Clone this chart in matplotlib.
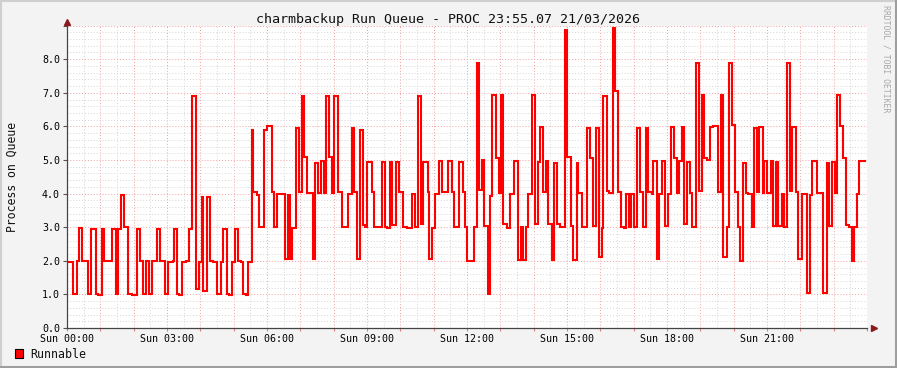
import matplotlib
matplotlib.use("Agg")
import matplotlib.pyplot as plt
from matplotlib.ticker import MultipleLocator, FuncFormatter
from matplotlib.patches import Rectangle
from matplotlib.lines import Line2D

# ---- data: step start (minutes after Sun 00:00) and run-queue value ----
step_minutes = [
    0, 11.4, 18.6, 21.6, 27.6, 38.4, 42.6, 51.6, 56.4, 62.4, 67.2, 81.6, 87.6, 92.4, 96.6,
    102.6, 110.4, 116.4, 126.6, 131.4, 136.2, 142.2, 147.6, 152.4, 161.4, 167.4, 176.4,
    182.4, 190, 192.6, 197.4, 201.6, 206.4, 214, 220.2, 225.6, 231.6, 237.6, 242.4, 245.4,
    251.4, 257.4, 263.4, 270.6, 276.6, 281.4, 287.4, 291.6, 297.6, 302.4, 307.2, 313,
    316.2, 321.6, 326.4, 332.4, 335.4, 341.4, 345.6, 355.2, 360.6, 368.4, 372.6, 378.6,
    392.4, 398.4, 401.4, 405.6, 412.2, 418.2, 422.4, 426.6, 432.6, 443.4, 446.4, 452.4,
    457.2, 463.2, 466.2, 471.6, 476.4, 480.6, 488.4, 494.4, 506.4, 512.4, 517.2, 521.4,
    527.4, 532.2, 536.4, 540.6, 548.4, 552.6, 566.4, 572.4, 576.6, 581.4, 585.6, 591.6,
    597.6, 605.4, 611.4, 620.4, 626.4, 631.2, 637.2, 641.4, 649.2, 651.6, 657.6, 662.4,
    669.6, 675.6, 686.4, 692.4, 697.2, 705.6, 712.2, 716.4, 720.6, 732.6, 737.4, 741.6,
    746.4, 751.2, 757.2, 761.4, 765.6, 771.6, 777.6, 781.2, 785.4, 791.4, 797.4, 805.2,
    811.2, 817.2, 821.4, 826.2, 830.4, 836.4, 842.4, 847.2, 851.4, 856.2, 861.6, 866.4,
    872.4, 877.2, 881.4, 887.4, 896.4, 900.6, 907.2, 911.4, 917.4, 920.4, 926.4, 936.6,
    941.4, 947.4, 951.6, 957.6, 962.4, 965.4, 971.4, 976.2, 982.2, 986.4, 991.2, 997.2,
    1002.6, 1006.2, 1011.6, 1015.2, 1021.2, 1026.6, 1031.4, 1036.2, 1041.6, 1046.4, 1052.4,
    1055.4, 1061.4, 1066.2, 1071.6, 1076.4, 1082.4, 1086.6, 1092.6, 1097.4, 1102.2, 1106.4,
    1111.2, 1116.6, 1121.4, 1125.6, 1131.6, 1137.6, 1142.4, 1146.6, 1151.4, 1157.4, 1162.2,
    1171.2, 1176.6, 1181.4, 1187.4, 1191.6, 1197.6, 1202.4, 1207.2, 1211.4, 1216.2, 1222.2,
    1226.4, 1232.4, 1237.2, 1241.4, 1246.2, 1252.2, 1254.6, 1260.6, 1266.6, 1271.4, 1276.2,
    1280.4, 1286.4, 1291.2, 1296.6, 1301.4, 1305.6, 1311.6, 1316.4, 1322.4, 1331.4, 1337.4,
    1341.6, 1350.6, 1361.4, 1367.4, 1371.6, 1376.4, 1382.4, 1386.6, 1391.4, 1396.2, 1401.6,
    1408.2, 1412.4, 1417.2, 1421.4, 1426.2, 1437,
]
runnable = [
    1.97, 1.0, 2.0, 2.97, 2.0, 1.0, 2.95, 1.0, 0.97, 2.95, 2.0, 2.95, 1.0, 2.95, 3.97,
    3.0, 1.0, 0.97, 2.95, 2.0, 1.0, 2.0, 1.0, 2.0, 2.95, 2.0, 1.0,
    1.97, 2.0, 2.95, 1.0, 0.97, 1.97, 2.0, 2.95, 6.9, 1.15, 1.97, 3.9, 1.1,
    3.9, 2.0, 1.97, 1.0, 1.97, 2.95, 1.0, 0.97, 1.97, 2.95, 2.0, 1.97,
    1.0, 0.97, 1.97, 5.9, 4.05, 3.97, 3.0, 5.9, 6.0, 4.05, 3.0, 3.99,
    2.05, 3.97, 2.05, 2.97, 5.94, 4.05, 6.9, 5.08, 4.02, 2.05, 4.92, 4.02,
    4.98, 4.02, 6.9, 5.08, 4.02, 6.9, 4.05, 3.0, 4.0, 5.95, 4.05, 2.05,
    5.9, 3.08, 3.0, 4.95, 4.05, 3.0, 4.95, 3.0, 2.97, 4.95, 3.08, 4.95,
    4.05, 3.0, 2.97, 3.99, 3.0, 6.9, 3.1, 4.95, 4.05, 2.05, 2.99, 3.99,
    4.98, 4.05, 4.98, 4.05, 3.0, 4.95, 4.05, 3.0, 2.0, 3.0, 7.9, 4.1,
    5.0, 3.05, 1.0, 3.93, 6.93, 5.05, 4.02, 6.93, 3.09, 2.99, 3.99, 4.98,
    2.03, 3.0, 2.02, 3.0, 4.0, 6.93, 3.09, 4.95, 5.99, 4.06, 4.98, 3.09,
    2.02, 4.92, 3.09, 3.0, 8.87, 5.1, 3.03, 2.02, 4.92, 4.03, 3.0, 5.94,
    5.05, 3.03, 5.94, 2.1, 2.99, 6.9, 4.09, 4.03, 8.92, 7.06, 4.06, 3.0,
    2.98, 3.99, 3.0, 3.99, 3.0, 5.94, 4.06, 3.0, 5.94, 4.06, 4.0,
    4.98, 2.05, 3.99, 4.98, 3.03, 3.99, 5.97, 5.05, 4.02, 4.98, 5.99,
    3.1, 4.95, 4.03, 3.0, 7.9, 4.09, 6.93, 5.05, 5.0, 5.99, 6.0,
    4.06, 6.93, 2.1, 3.0, 7.9, 6.04, 4.06, 3.0, 2.0, 4.92, 4.03,
    3.99, 3.0, 5.94, 4.06, 5.97, 4.03, 4.98, 4.03, 4.98, 3.03, 4.95,
    3.03, 3.99, 3.0, 7.9, 4.09, 5.97, 4.06, 2.04, 3.99, 1.05, 3.96,
    4.98, 4.03, 1.05, 4.92, 3.03, 4.95, 4.03, 6.93, 6.01, 5.05, 3.06,
    3.0, 2.0, 3.0, 3.99, 4.98, 4.98,
]
x_tick_minutes = [0, 180, 360, 540, 720, 900, 1080, 1260]
x_tick_labels = ["Sun 00:00", "Sun 03:00", "Sun 06:00", "Sun 09:00",
                 "Sun 12:00", "Sun 15:00", "Sun 18:00", "Sun 21:00"]
y_ticks = [0, 1, 2, 3, 4, 5, 6, 7, 8]

MONO = "DejaVu Sans Mono"
W, H = 897, 368
fig = plt.figure(figsize=(W / 100, H / 100), dpi=100)
fig.patch.set_facecolor("#F3F3F3")

def fx(px):
    return px / W

def fy(py):
    return (H - py) / H

ax_left, ax_right, ax_top, ax_bottom = 67, 867, 25.6, 328
ax = fig.add_axes([fx(ax_left), fy(ax_bottom), (ax_right - ax_left) / W, (ax_bottom - ax_top) / H])
ax.set_facecolor("white")

ax.set_xlim(0, 1440)
ax.set_ylim(0, 9)

ax.xaxis.set_major_locator(MultipleLocator(60))
ax.xaxis.set_minor_locator(MultipleLocator(30))
ax.yaxis.set_major_locator(MultipleLocator(1))
ax.yaxis.set_minor_locator(MultipleLocator(0.2))

ax.grid(which="minor", color="#D6D6D6", linestyle=(0, (1, 2)), linewidth=0.7)
ax.grid(which="major", color="#F2A0A0", linestyle=(0, (1, 2)), linewidth=0.7)
ax.set_axisbelow(True)

lab = dict(zip(x_tick_minutes, x_tick_labels))
ax.xaxis.set_major_formatter(FuncFormatter(lambda v, p: lab.get(int(round(v)), "")))
ax.yaxis.set_major_formatter(FuncFormatter(lambda v, p: "%.1f" % v if v <= 8.01 else ""))

ax.tick_params(axis="x", which="major", length=2, color="#E08080", labelsize=7.2, pad=2)
ax.tick_params(axis="x", which="minor", length=0)
ax.tick_params(axis="y", which="major", length=3, color="#555555", labelsize=7.2, pad=2)
ax.tick_params(axis="y", which="minor", length=0)
for t in ax.get_xticklabels() + ax.get_yticklabels():
    t.set_fontfamily(MONO)

for s in ("top", "right"):
    ax.spines[s].set_visible(False)
for s in ("left", "bottom"):
    ax.spines[s].set_color("#444444")
    ax.spines[s].set_linewidth(0.9)

xs = list(step_minutes) + [1440 if False else step_minutes[-1]]
ys = list(runnable)
ax.step(step_minutes, runnable, where="post", color="#FF0000", linewidth=1.5, solid_joinstyle="miter", zorder=3)

# axis arrows
ax.plot([0], [9.12], marker="^", color="#8B1A1A", markersize=4, clip_on=False, zorder=5)
ax.plot([1452], [0], marker=">", color="#8B1A1A", markersize=4, clip_on=False, zorder=5)

# texts
fig.text(fx(448), fy(19), "charmbackup Run Queue - PROC 23:55.07 21/03/2026",
         family=MONO, fontsize=9.6, ha="center", va="center", color="#111111")
fig.text(fx(12), fy(177), "Process on Queue", family=MONO, fontsize=8.3,
         rotation=90, ha="center", va="center", color="#111111")
fig.text(fx(886), fy(5), "RRDTOOL / TOBI OETIKER", family=MONO, fontsize=5.9,
         rotation=270, ha="center", va="top", color="#A8A8A8")

# legend
fig.patches.append(Rectangle((fx(15), fy(358)), 8 / W, 9 / H, transform=fig.transFigure,
                             facecolor="#FF0000", edgecolor="black", linewidth=0.8))
fig.text(fx(30), fy(354), "Runnable", family=MONO, fontsize=8.4, ha="left", va="center",
         color="#111111")

# frame borders
fig.add_artist(Line2D([0, 1], [1 - 1 / H, 1 - 1 / H], transform=fig.transFigure, color="#CFCFCF", linewidth=1.5))
fig.add_artist(Line2D([1 / W, 1 / W], [0, 1], transform=fig.transFigure, color="#CFCFCF", linewidth=1.5))
fig.add_artist(Line2D([0, 1], [1.5 / H, 1.5 / H], transform=fig.transFigure, color="#9E9E9E", linewidth=2.2))
fig.add_artist(Line2D([1 - 1.5 / W, 1 - 1.5 / W], [0, 1], transform=fig.transFigure, color="#9E9E9E", linewidth=2.2))

fig.savefig("out.png", dpi=100, facecolor=fig.get_facecolor())
